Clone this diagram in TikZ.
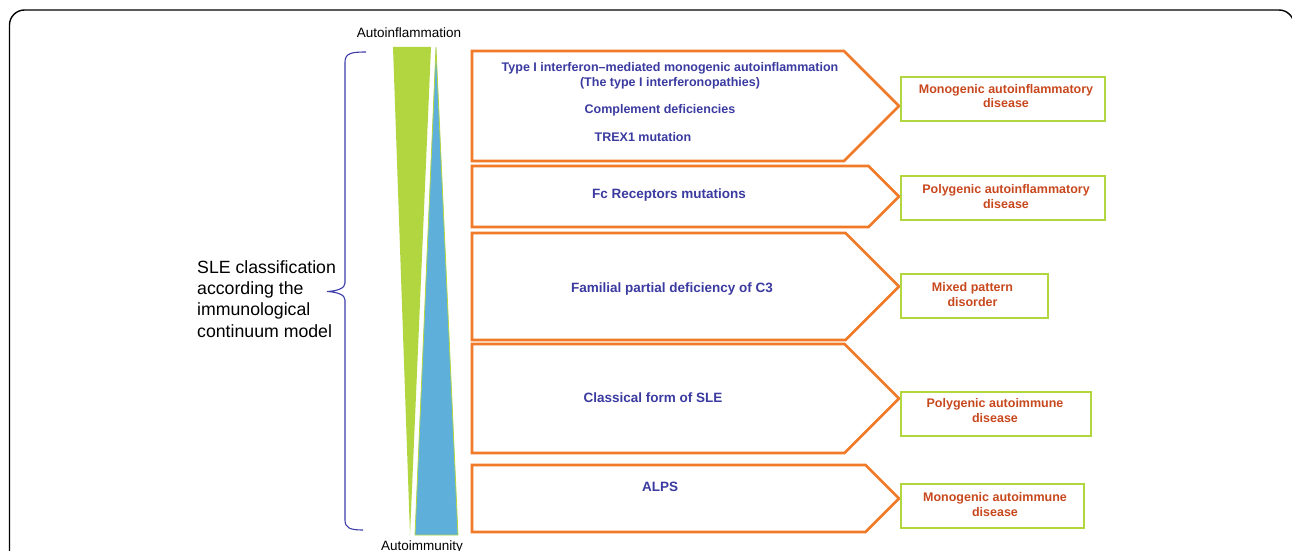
\documentclass[tikz,border=0pt]{standalone}
\usepackage{fontspec}
\setmainfont{Liberation Sans}
\definecolor{orangeC}{RGB}{240,122,40}
\definecolor{greenC}{RGB}{178,214,64}
\definecolor{blueF}{RGB}{94,176,218}
\definecolor{blueT}{RGB}{58,58,160}
\definecolor{orangeT}{RGB}{200,72,30}
\definecolor{braceC}{RGB}{60,60,170}
\begin{document}
\begin{tikzpicture}[x=1pt,y=-1pt,
  pent/.style={draw=orangeC, line width=2.6pt, line join=miter},
  gbox/.style={draw=greenC, line width=1.8pt, inner sep=0pt, anchor=north west},
  btxt/.style={text=blueT, font=\bfseries\fontsize{13.5}{16}\selectfont, inner sep=0pt},
  btxts/.style={text=blueT, font=\bfseries\fontsize{12.5}{15}\selectfont, inner sep=0pt, align=center},
  otxt/.style={text=orangeT, font=\bfseries\fontsize{12.5}{14.5}\selectfont, inner sep=0pt, align=center},
  ltxt/.style={text=black, font=\fontsize{13.5}{16}\selectfont, inner sep=0pt}
]
\useasboundingbox (0,0) rectangle (1292,551);
% frame
\draw[line width=1.4pt, rounded corners=15pt] (9.5,600) -- (9.5,10) -- (1294,10) -- (1294,600);
% triangles
\fill[greenC] (393,47) -- (431,47) -- (410,535) -- cycle;
\filldraw[fill=blueF, draw=greenC, line width=0.8pt] (436,47) -- (458,535) -- (415,535) -- cycle;
% labels of the scale
\node[ltxt] (ainf) at (409,33) {Autoinflammation};
\node[ltxt] (aimm) at (422,547) {Autoimmunity};
% brace
\draw[braceC, line width=1.1pt] (366,52) .. controls (352,52) and (345,53) .. (345,62) -- (345,283) .. controls (345,288) and (338,291) .. (327,291.5) .. controls (338,292) and (345,295) .. (345,300) -- (345,520) .. controls (345,528) and (350,530) .. (363,530);
\node[anchor=west, align=left, font=\fontsize{17.7}{21.3}\selectfont, inner sep=0pt] (lbl) at (197,299) {SLE classification\\according the\\immunological\\continuum model};
% pentagon arrows
\draw[pent] (472,51) -- (844,51) -- (899,106) -- (844,161) -- (472,161) -- cycle;
\draw[pent] (472,166) -- (868.5,166) -- (899,196.5) -- (868.5,227) -- (472,227) -- cycle;
\draw[pent] (472,233) -- (845.5,233) -- (899,286.5) -- (845.5,340) -- (472,340) -- cycle;
\draw[pent] (472,344) -- (844.5,344) -- (899,398.5) -- (844.5,453) -- (472,453) -- cycle;
\draw[pent] (472,465) -- (865.5,465) -- (899,498.5) -- (865.5,532) -- (472,532) -- cycle;
% texts in arrows
\node[btxts] (t1) at (670,75.5) {Type I interferon--mediated monogenic autoinflammation\\(The type I interferonopathies)};
\node[btxts] (t2) at (660,110.5) {Complement deficiencies};
\node[btxts] (t3) at (643,137.5) {TREX1 mutation};
\node[btxt] (t4) at (669,195) {Fc Receptors mutations};
\node[btxt] (t5) at (672,289) {Familial partial deficiency of C3};
\node[btxt] (t6) at (653,398) {Classical form of SLE};
\node[btxt] (t7) at (660,487) {ALPS};
% result boxes
\node[gbox, minimum width=204, minimum height=44] (b1) at (900,76) {};
\node[gbox, minimum width=204, minimum height=44] (b2) at (900,175) {};
\node[gbox, minimum width=147, minimum height=44] (b3) at (900,273) {};
\node[gbox, minimum width=190, minimum height=44] (b4) at (900,391) {};
\node[gbox, minimum width=183, minimum height=44] (b5) at (900,483) {};
\node[otxt] (o1) at (1006,96) {Monogenic autoinflammatory\\disease};
\node[otxt] (o2) at (1006,196.5) {Polygenic autoinflammatory\\disease};
\node[otxt] (o3) at (972.5,294.5) {Mixed pattern\\disorder};
\node[otxt] (o4) at (995,410.5) {Polygenic autoimmune\\disease};
\node[otxt] (o5) at (995,504.5) {Monogenic autoimmune\\disease};
\end{tikzpicture}
\end{document}
